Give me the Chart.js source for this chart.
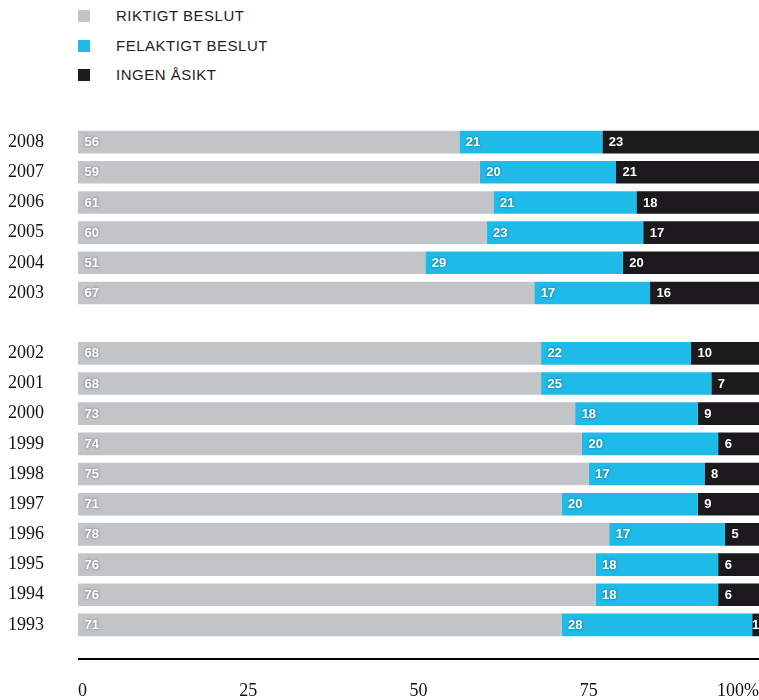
<!DOCTYPE html>
<html>
<head>
<meta charset="utf-8">
<script src="https://cdn.jsdelivr.net/npm/chart.js@4"></script>
<style>
  html, body { margin: 0; padding: 0; background: #fff; }
  #wrap { position: relative; width: 759px; height: 700px; }
  #legend { position: absolute; left: 78px; top: 0; font-family: "Liberation Sans", Arial, sans-serif; font-size: 15px; letter-spacing: 0.5px; color: #231f20; }
  .item { position: absolute; left: 0; white-space: nowrap; height: 20px; line-height: 20px; }
  .sw { position: absolute; left: 0; top: 4px; width: 12px; height: 12px; }
  .lbl { position: absolute; left: 38px; top: 0; }
  canvas { position: absolute; left: 0; top: 0; }
</style>
</head>
<body>
<div id="wrap">
  <div id="legend"></div>
  <canvas id="c" width="759" height="700"></canvas>
</div>
<script>
// Data
const years = ['2008','2007','2006','2005','2004','2003','','2002','2001','2000','1999','1998','1997','1996','1995','1994','1993'];
const riktigt   = [56, 59, 61, 60, 51, 67, null, 68, 68, 73, 74, 75, 71, 78, 76, 76, 71];
const felaktigt = [21, 20, 21, 23, 29, 17, null, 22, 25, 18, 20, 17, 20, 17, 18, 18, 28];
const ingen     = [23, 21, 18, 17, 20, 16, null, 10, 7, 9, 6, 8, 9, 5, 6, 6, 1];
const seriesNames = ['RIKTIGT BESLUT', 'FELAKTIGT BESLUT', 'INGEN ÅSIKT'];
const seriesColors = ['#c1c5c8', '#1fbbe8', '#1c1a1d'];
const xTicks = [0, 25, 50, 75, 100];

// HTML legend
const legend = document.getElementById('legend');
seriesNames.forEach((n, i) => {
  const d = document.createElement('div');
  d.className = 'item';
  d.style.top = (6 + i * 29.5) + 'px';
  d.innerHTML = '<span class="sw" style="background:' + seriesColors[i] + '"></span><span class="lbl">' + n + '</span>';
  legend.appendChild(d);
});

const valueLabels = {
  id: 'valueLabels',
  afterDatasetsDraw(chart) {
    const ctx = chart.ctx;
    ctx.save();
    ctx.font = 'bold 13px "Liberation Sans", Arial, sans-serif';
    ctx.textBaseline = 'middle';
    ctx.fillStyle = '#ffffff';
    ctx.shadowColor = 'rgba(0,0,0,0.45)';
    ctx.shadowBlur = 3;
    chart.data.datasets.forEach((ds, di) => {
      const meta = chart.getDatasetMeta(di);
      meta.data.forEach((bar, i) => {
        const v = ds.data[i];
        if (v == null) return;
        const txt = String(v);
        const w = ctx.measureText(txt).width;
        const left = Math.min(bar.x, bar.base);
        const barW = Math.abs(bar.x - bar.base);
        if (barW < w + 8) {
          ctx.textAlign = 'center';
          ctx.fillText(txt, left + barW / 2, bar.y + 0.5);
        } else {
          ctx.textAlign = 'left';
          ctx.fillText(txt, left + 6.5, bar.y + 0.5);
        }
      });
    });
    ctx.restore();
  }
};

const axisLine = {
  id: 'axisLine',
  afterDraw(chart) {
    const ctx = chart.ctx;
    const xs = chart.scales.x;
    const y = chart.chartArea.bottom + 19;
    ctx.save();
    ctx.strokeStyle = '#000';
    ctx.lineWidth = 2;
    ctx.beginPath();
    ctx.moveTo(xs.left, y);
    ctx.lineTo(xs.right, y);
    ctx.stroke();
    ctx.restore();
  }
};

new Chart(document.getElementById('c'), {
  type: 'bar',
  data: {
    labels: years,
    datasets: [
      { label: seriesNames[0], data: riktigt, backgroundColor: seriesColors[0] },
      { label: seriesNames[1], data: felaktigt, backgroundColor: seriesColors[1] },
      { label: seriesNames[2], data: ingen, backgroundColor: seriesColors[2] }
    ]
  },
  options: {
    indexAxis: 'y',
    responsive: false,
    animation: false,
    layout: { padding: { top: 127, left: 8, right: 0, bottom: 0 } },
    datasets: { bar: { barPercentage: 1, categoryPercentage: 0.75, borderWidth: 0 } },
    plugins: { legend: { display: false }, tooltip: { enabled: false } },
    scales: {
      x: {
        stacked: true,
        min: 0, max: 100,
        afterBuildTicks(scale) { scale.ticks = xTicks.map(v => ({ value: v })); },
        afterFit(scale) { scale.height = 60; scale.paddingLeft = 0; scale.paddingRight = 0; },
        grid: { display: false, drawTicks: false },
        border: { display: false },
        ticks: {
          align: 'inner',
          padding: 40,
          color: '#111',
          font: { family: '"Liberation Serif", "DejaVu Serif", serif', size: 18 },
          callback: (v) => v === 100 ? '100%' : String(v)
        }
      },
      y: {
        stacked: true,
        afterFit(scale) { scale.width = 70; scale.paddingTop = 0; scale.paddingBottom = 0; },
        grid: { display: false, drawTicks: false },
        border: { display: false },
        ticks: {
          crossAlign: 'far',
          padding: 0,
          autoSkip: false,
          color: '#111',
          font: { family: '"Liberation Serif", "DejaVu Serif", serif', size: 18 }
        }
      }
    }
  },
  plugins: [valueLabels, axisLine]
});
</script>
</body>
</html>
